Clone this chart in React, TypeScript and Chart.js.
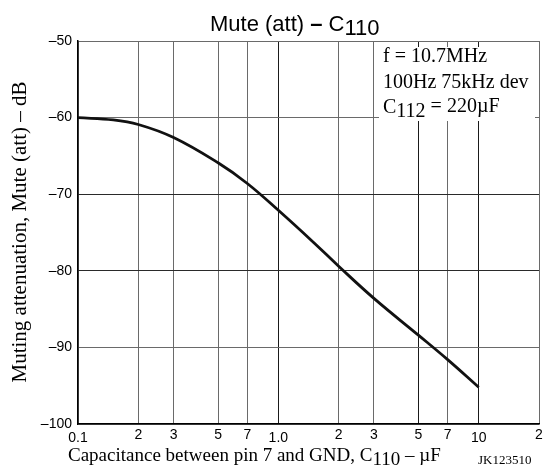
import React, { useEffect, useRef } from "react";
import { Chart, registerables } from "chart.js";

Chart.register(...registerables);

// ---- data ----
const capacitanceUF = [0.1, 0.15, 0.2, 0.3, 0.5, 0.7, 1, 1.5, 2, 3, 5, 7, 10];
const muteAttDb = [-60, -60.3, -60.9, -62.6, -65.9, -68.6, -72.1, -76.3, -79.4, -83.6, -88.4, -91.6, -95.2];

const xTickValues = [0.1, 0.2, 0.3, 0.5, 0.7, 1, 2, 3, 5, 7, 10, 20];
const xTickLabels = ["0.1", "2", "3", "5", "7", "1.0", "2", "3", "5", "7", "10", "2"];
const xDecadeTicks = [0.1, 1, 10];
const xDarkGrid = [1, 5, 10];

const yTickValues = [-100, -90, -80, -70, -60, -50];
const yTickLabels = ["\u2013100", "\u201390", "\u201380", "\u201370", "\u201360", "\u201350"];
const yDarkGrid = [-70, -80];

const titleMain = "Mute (att) ";
const titleDash = "\u2013";
const titleC = " C";
const titleSub = "110";
const yTitle = "Muting attenuation, Mute (att) \u2013 dB";
const xTitleMain = "Capacitance between pin 7 and GND, C";
const xTitleSub = "110";
const xTitleEnd = " \u2013 \u00B5F";
const figureCode = "JK123510";
const noteLine1 = "f = 10.7MHz";
const noteLine2 = "100Hz 75kHz dev";
const noteLine3Main = "C";
const noteLine3Sub = "112";
const noteLine3End = " = 220\u00B5F";

const SANS = "'Liberation Sans', Arial, sans-serif";
const SERIF = "'Liberation Serif', 'Times New Roman', serif";

const textPlugin = {
  id: "textPlugin",
  afterDraw(chart: any) {
    const ctx = chart.ctx as CanvasRenderingContext2D;
    const a = chart.chartArea;
    ctx.save();
    ctx.fillStyle = "#000";
    ctx.textBaseline = "alphabetic";
    ctx.textAlign = "left";

    // title
    ctx.font = `22px ${SANS}`;
    let x = a.left + 132;
    ctx.fillText(titleMain, x, 31);
    x += ctx.measureText(titleMain).width;
    ctx.font = `bold 22px ${SANS}`;
    ctx.fillText(titleDash, x, 31);
    x += ctx.measureText(titleDash).width;
    ctx.font = `22px ${SANS}`;
    ctx.fillText(titleC, x, 31);
    x += ctx.measureText(titleC).width;
    ctx.fillText(titleSub, x, 35);

    // note box
    ctx.fillStyle = "#fff";
    ctx.fillRect(a.left + 301, a.top + 6, 156, 74);
    ctx.fillStyle = "#000";
    ctx.font = `20px ${SERIF}`;
    const nx = a.left + 305;
    ctx.fillText(noteLine1, nx, 62);
    ctx.fillText(noteLine2, nx, 88);
    ctx.fillText(noteLine3Main, nx, 113);
    let nx2 = nx + ctx.measureText(noteLine3Main).width;
    ctx.fillText(noteLine3Sub, nx2, 117);
    nx2 += ctx.measureText(noteLine3Sub).width;
    ctx.fillText(noteLine3End, nx2, 112);

    // y title
    ctx.save();
    ctx.translate(20, 232);
    ctx.rotate(-Math.PI / 2);
    ctx.font = `21px ${SERIF}`;
    ctx.textAlign = "center";
    ctx.textBaseline = "middle";
    ctx.fillText(yTitle, 0, 0);
    ctx.restore();

    // x title
    ctx.font = `19px ${SERIF}`;
    let tx = 68;
    ctx.fillText(xTitleMain, tx, 461);
    tx += ctx.measureText(xTitleMain).width;
    ctx.fillText(xTitleSub, tx, 465);
    tx += ctx.measureText(xTitleSub).width;
    ctx.fillText(xTitleEnd, tx, 461);

    ctx.font = `13px ${SERIF}`;
    ctx.fillText(figureCode, 478, 464);
    ctx.restore();
  },
};

export default function App() {
  const canvasRef = useRef<HTMLCanvasElement | null>(null);

  useEffect(() => {
    if (!canvasRef.current) return;
    const chart = new Chart(canvasRef.current, {
      type: "line",
      data: {
        datasets: [
          {
            data: capacitanceUF.map((c, i) => ({ x: c, y: muteAttDb[i] })),
            borderColor: "#111",
            borderWidth: 2.8,
            pointRadius: 0,
            tension: 0.4,
            fill: false,
          },
        ],
      },
      options: {
        responsive: false,
        animation: false,
        layout: { padding: { top: 41, right: 7, left: 0, bottom: 0 } },
        plugins: {
          legend: { display: false },
          title: { display: false },
          tooltip: { enabled: false },
        },
        scales: {
          x: {
            type: "logarithmic",
            min: 0.1,
            max: 20,
            afterBuildTicks: (scale: any) => {
              scale.ticks = xTickValues.map((v) => ({ value: v, major: xDecadeTicks.includes(v) }));
            },
            afterFit: (scale: any) => {
              scale.height = 44;
            },
            ticks: {
              autoSkip: false,
              maxRotation: 0,
              minRotation: 0,
              padding: 3,
              color: "#000",
              font: (ctx: any) => {
                const v = ctx.tick ? ctx.tick.value : 0;
                const dec = xDecadeTicks.some((d) => Math.abs(d - v) < 1e-9);
                return { family: SANS, size: 14, lineHeight: dec ? "23px" : "17px" };
              },
              callback: (_v: any, i: number) => xTickLabels[i],
            },
            grid: {
              drawTicks: false,
              lineWidth: 1,
              color: (ctx: any) => {
                const v = ctx.tick ? ctx.tick.value : 0;
                return xDarkGrid.some((d) => Math.abs(d - v) < 1e-9) ? "#1a1a1a" : "#6a6a6a";
              },
            },
            border: { color: "#000", width: 1.5 },
          },
          y: {
            type: "linear",
            min: -100,
            max: -50,
            afterBuildTicks: (scale: any) => {
              scale.ticks = yTickValues.map((v) => ({ value: v }));
            },
            afterFit: (scale: any) => {
              scale.width = 78;
            },
            ticks: {
              padding: 6,
              color: "#000",
              font: { family: SANS, size: 14 },
              callback: (_v: any, i: number) => yTickLabels[i],
            },
            grid: {
              drawTicks: false,
              lineWidth: 1,
              color: (ctx: any) => {
                const v = ctx.tick ? ctx.tick.value : 0;
                return yDarkGrid.includes(v) ? "#2a2a2a" : "#6a6a6a";
              },
            },
            border: { color: "#000", width: 1.5 },
          },
        },
      },
      plugins: [textPlugin],
    } as any);
    return () => chart.destroy();
  }, []);

  return (
    <div style={{ position: "fixed", left: 0, top: 0, width: 546, height: 468, background: "#fff" }}>
      <canvas ref={canvasRef} width={546} height={468} style={{ display: "block", width: 546, height: 468 }} />
    </div>
  );
}
